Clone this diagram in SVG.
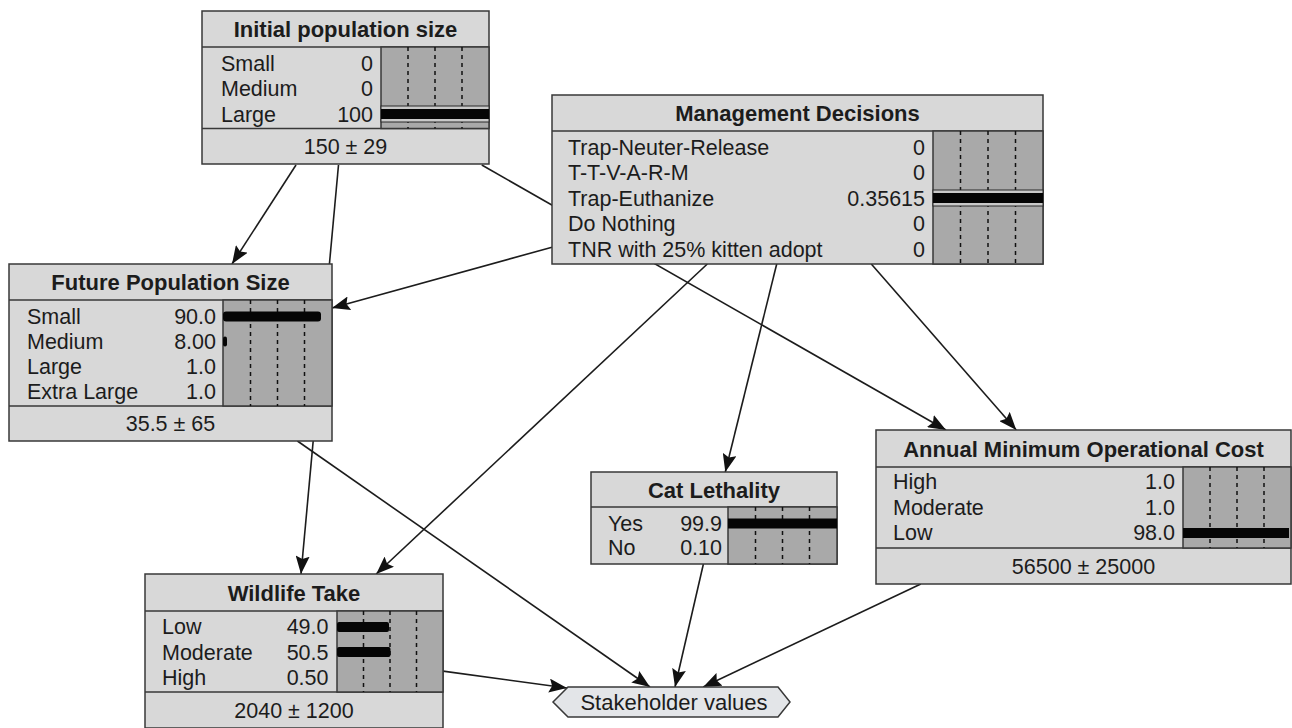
<svg xmlns="http://www.w3.org/2000/svg" width="1292" height="728" viewBox="0 0 1292 728">
<style>
.box{fill:#d8d8d8;stroke:#383838;stroke-width:1.5}
.sep{stroke:#383838;stroke-width:1.5;fill:none}
.ba{fill:#a9a9a9;stroke:#383838;stroke-width:1.5}
.grid{stroke:#111;stroke-width:1.5;stroke-dasharray:4 4;fill:none}
.bar{fill:#050505}
.band{fill:#c9c9c9;stroke:#2a2a2a;stroke-width:1}
.t{font-family:"Liberation Sans",Arial,sans-serif;font-size:22px;font-weight:bold;text-anchor:middle;fill:#1c1c1c}
.l{font-family:"Liberation Sans",Arial,sans-serif;font-size:21.5px;fill:#1c1c1c}
.v{text-anchor:end}
.f{text-anchor:middle}
.e{stroke:#1c1c1c;stroke-width:1.6;fill:none;marker-end:url(#arr)}
.hex{fill:#e3e5e8;stroke:#383838;stroke-width:1.5}
</style>
<defs>
<marker id="arr" markerUnits="userSpaceOnUse" markerWidth="18" markerHeight="14" refX="18" refY="7" orient="auto">
<path d="M0,0 L18,7 L0,14 L3,7 z" fill="#111"/>
</marker>
</defs>
<rect width="1292" height="728" fill="#ffffff"/>
<g id="connectors">
<line class="e" x1="296" y1="165" x2="232" y2="264"/>
<line class="e" x1="338.5" y1="165" x2="301" y2="574"/>
<line class="e" x1="481.8" y1="165" x2="946" y2="430"/>
<line class="e" x1="552" y1="247.2" x2="332" y2="308"/>
<line class="e" x1="707.3" y1="264" x2="376.2" y2="574"/>
<line class="e" x1="776.7" y1="264" x2="725.3" y2="472"/>
<line class="e" x1="871.3" y1="264" x2="1016.3" y2="430"/>
<line class="e" x1="297.4" y1="441" x2="650" y2="687"/>
<line class="e" x1="443" y1="671.1" x2="567" y2="688"/>
<line class="e" x1="703.4" y1="564" x2="675" y2="687"/>
<line class="e" x1="920.8" y1="584" x2="703.2" y2="687"/>
</g>
<g id="node-initial-population-size">
<rect class="box" x="202" y="11" width="287" height="153"/>
<line class="sep" x1="202" y1="47" x2="489" y2="47"/>
<line class="sep" x1="202" y1="128.5" x2="489" y2="128.5"/>
<rect class="ba" x="381" y="47" width="108" height="81.5"/>
<path class="grid" d="M408,47V128.5M435,47V128.5M462,47V128.5"/>
<rect class="band" x="381" y="106" width="108" height="16"/>
<rect class="bar" x="381" y="109" width="108" height="10"/>
<text class="t" x="345.5" y="37">Initial population size</text>
<text class="l" x="221" y="70.5">Small</text><text class="l v" x="373" y="70.5">0</text>
<text class="l" x="221" y="96">Medium</text><text class="l v" x="373" y="96">0</text>
<text class="l" x="221" y="121.5">Large</text><text class="l v" x="373" y="121.5">100</text>
<text class="l f" x="345.5" y="154">150 ± 29</text>
</g>
<g id="node-management-decisions">
<rect class="box" x="552" y="95" width="491" height="169"/>
<line class="sep" x1="552" y1="131" x2="1043" y2="131"/>
<rect class="ba" x="933" y="131" width="110" height="133"/>
<path class="grid" d="M960.5,131V264M988,131V264M1015.5,131V264"/>
<rect class="band" x="933" y="190" width="110" height="16"/>
<rect class="bar" x="933" y="193" width="110" height="10"/>
<text class="t" x="797.5" y="121">Management Decisions</text>
<text class="l" x="568" y="154.5">Trap-Neuter-Release</text><text class="l v" x="925" y="154.5">0</text>
<text class="l" x="568" y="180">T-T-V-A-R-M</text><text class="l v" x="925" y="180">0</text>
<text class="l" x="568" y="205.5">Trap-Euthanize</text><text class="l v" x="925" y="205.5">0.35615</text>
<text class="l" x="568" y="231">Do Nothing</text><text class="l v" x="925" y="231">0</text>
<text class="l" x="568" y="256.5">TNR with 25% kitten adopt</text><text class="l v" x="925" y="256.5">0</text>
</g>
<g id="node-future-population-size">
<rect class="box" x="9" y="264" width="323" height="177"/>
<line class="sep" x1="9" y1="300" x2="332" y2="300"/>
<line class="sep" x1="9" y1="406" x2="332" y2="406"/>
<rect class="ba" x="223" y="300" width="109" height="106"/>
<path class="grid" d="M250.5,300V406M277.5,300V406M304.5,300V406"/>
<rect class="bar" x="223" y="311.5" width="98" height="10" rx="3"/>
<rect class="bar" x="223" y="336.5" width="4" height="10" rx="2"/>
<text class="t" x="170.5" y="290">Future Population Size</text>
<text class="l" x="27" y="324">Small</text><text class="l v" x="216" y="324">90.0</text>
<text class="l" x="27" y="349">Medium</text><text class="l v" x="216" y="349">8.00</text>
<text class="l" x="27" y="374">Large</text><text class="l v" x="216" y="374">1.0</text>
<text class="l" x="27" y="399">Extra Large</text><text class="l v" x="216" y="399">1.0</text>
<text class="l f" x="170.5" y="431">35.5 ± 65</text>
</g>
<g id="node-cat-lethality">
<rect class="box" x="591" y="472" width="246" height="92"/>
<line class="sep" x1="591" y1="507" x2="837" y2="507"/>
<rect class="ba" x="728" y="507" width="109" height="57"/>
<path class="grid" d="M755.5,507V564M782.5,507V564M809.5,507V564"/>
<rect class="bar" x="728" y="518.5" width="109" height="10"/>
<text class="t" x="714" y="497.5">Cat Lethality</text>
<text class="l" x="608" y="531">Yes</text><text class="l v" x="722" y="531">99.9</text>
<text class="l" x="608" y="554.5">No</text><text class="l v" x="722" y="554.5">0.10</text>
</g>
<g id="node-annual-minimum-operational-cost">
<rect class="box" x="876" y="430" width="415" height="154"/>
<line class="sep" x1="876" y1="467" x2="1291" y2="467"/>
<line class="sep" x1="876" y1="548" x2="1291" y2="548"/>
<rect class="ba" x="1183" y="467" width="108" height="81"/>
<path class="grid" d="M1210,467V548M1237,467V548M1264,467V548"/>
<rect class="bar" x="1183" y="528" width="106" height="10"/>
<text class="t" x="1083.5" y="456.5">Annual Minimum Operational Cost</text>
<text class="l" x="893" y="489">High</text><text class="l v" x="1175" y="489">1.0</text>
<text class="l" x="893" y="514.5">Moderate</text><text class="l v" x="1175" y="514.5">1.0</text>
<text class="l" x="893" y="540">Low</text><text class="l v" x="1175" y="540">98.0</text>
<text class="l f" x="1083.5" y="573.5">56500 ± 25000</text>
</g>
<g id="node-wildlife-take">
<rect class="box" x="145" y="574" width="298" height="154"/>
<line class="sep" x1="145" y1="611" x2="443" y2="611"/>
<line class="sep" x1="145" y1="692" x2="443" y2="692"/>
<rect class="ba" x="337" y="611" width="106" height="81"/>
<path class="grid" d="M363.5,611V692M390,611V692M416.5,611V692"/>
<rect class="bar" x="337" y="622" width="52" height="10" rx="2"/>
<rect class="bar" x="337" y="647" width="53.5" height="10" rx="2"/>
<text class="t" x="294" y="600.5">Wildlife Take</text>
<text class="l" x="162" y="634">Low</text><text class="l v" x="328.5" y="634">49.0</text>
<text class="l" x="162" y="659.5">Moderate</text><text class="l v" x="328.5" y="659.5">50.5</text>
<text class="l" x="162" y="685">High</text><text class="l v" x="328.5" y="685">0.50</text>
<text class="l f" x="294" y="717.5">2040 ± 1200</text>
</g>
<g id="node-stakeholder-values">
<polygon class="hex" points="553,702 568,687 778,687 790,702 778,717 568,717"/>
<text class="l f" x="674" y="710" style="font-size:22px">Stakeholder values</text>
</g>
</svg>
